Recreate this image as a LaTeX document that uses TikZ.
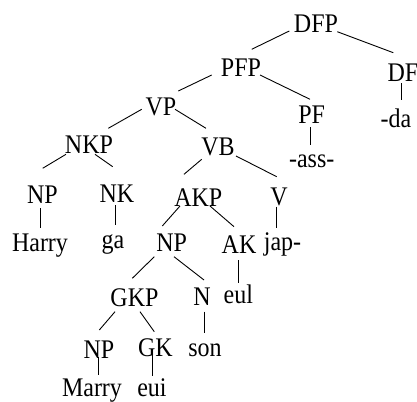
\documentclass[tikz,border=0pt]{standalone}
\usepackage{fontspec}
\setmainfont{Liberation Serif}
\usetikzlibrary{calc}
\newcommand{\treeedge}[4]{\draw[edge] ($(#1.base)+(#2)$) -- ($(#3.base)+(#4)$);}
\newcommand{\tallt}[1]{\scalebox{1}[1.12]{#1}}
\begin{document}
\begin{tikzpicture}[x=1pt,y=-1pt,
  lbl/.style={anchor=base,inner sep=0pt,font=\fontsize{24}{24}\selectfont,text=black},
  edge/.style={draw=black,line width=0.9pt}]
\useasboundingbox (0,0) rectangle (417,401);
% nodes
\node[lbl] (DFP) at (316,33) {\tallt{DFP}};
\node[lbl] (DF) at (403,82) {\tallt{DF}};
\node[lbl] (da) at (396,127) {\tallt{-da}};
\node[lbl] (PFP) at (241,77) {\tallt{PFP}};
\node[lbl] (PF) at (311.7,124) {\tallt{PF}};
\node[lbl] (ass) at (311.7,167) {\tallt{-ass-}};
\node[lbl] (VP) at (161,115) {\tallt{VP}};
\node[lbl] (NKP) at (89,153) {\tallt{NKP}};
\node[lbl] (VB) at (218,155) {\tallt{VB}};
\node[lbl] (NPa) at (42.5,203) {\tallt{NP}};
\node[lbl] (NK) at (117,202) {\tallt{NK}};
\node[lbl] (Harry) at (40,251) {\tallt{Harry}};
\node[lbl] (ga) at (113,248) {\tallt{ga}};
\node[lbl] (AKP) at (198.3,206) {\tallt{AKP}};
\node[lbl] (V) at (279,205) {\tallt{V}};
\node[lbl] (jap) at (282.5,250) {\tallt{jap-}};
\node[lbl] (NPb) at (171.7,251) {\tallt{NP}};
\node[lbl] (AK) at (239,253) {\tallt{AK}};
\node[lbl] (eul) at (238.3,303) {\tallt{eul}};
\node[lbl] (GKP) at (134.5,306.5) {\tallt{GKP}};
\node[lbl] (N) at (202,305) {\tallt{N}};
\node[lbl] (son) at (205,356) {\tallt{son}};
\node[lbl] (NPc) at (99,358) {\tallt{NP}};
\node[lbl] (GK) at (155.5,356) {\tallt{GK}};
\node[lbl] (Marry) at (92,396.5) {\tallt{Marry}};
\node[lbl] (eui) at (152,396.5) {\tallt{eui}};
% edges
\treeedge{DFP}{-26.7,-2}{PFP}{10.7,-27.7}
\treeedge{DFP}{21.3,-1.3}{DF}{-9.7,-29.3}
\treeedge{PFP}{-29.3,-2}{VP}{17.3,-24}
\treeedge{PFP}{19,-2}{PF}{-1.7,-24.7}
\treeedge{DF}{-2,1.3}{da}{5,-27}
\treeedge{PF}{-1.7,3}{ass}{-1.7,-22}
\treeedge{VP}{-19.3,-5.7}{NKP}{19.3,-24.7}
\treeedge{VP}{14,-5.7}{VB}{-12,-26.7}
\treeedge{NKP}{-23,1.3}{NPa}{0.2,-34.7}
\treeedge{NKP}{6,1.3}{NK}{-4.3,-35.3}
\treeedge{NPa}{-1.8,5.3}{Harry}{0.7,-22.7}
\treeedge{NK}{-2,3}{ga}{2,-23}
\treeedge{VB}{-16.3,4.3}{AKP}{-14.3,-31.7}
\treeedge{VB}{18,1}{V}{-2.3,-28.3}
\treeedge{V}{-2.3,1.7}{jap}{-5.8,-21.7}
\treeedge{AKP}{-18.3,0}{NPb}{-9.4,-25}
\treeedge{AKP}{11.7,0}{AK}{-5,-26.3}
\treeedge{AK}{-1,7}{eul}{-0.3,-20.3}
\treeedge{NPb}{-17.4,5.7}{GKP}{-2.2,-28.2}
\treeedge{NPb}{2.3,5.7}{N}{2,-25}
\treeedge{GKP}{-19.5,5.2}{NPc}{0.3,-28}
\treeedge{GKP}{5.5,5.2}{GK}{-1.2,-24.3}
\treeedge{N}{2.3,6.7}{son}{-0.7,-22.7}
\treeedge{NPc}{-0.7,-1.3}{Marry}{6.3,-21.5}
\treeedge{GK}{-3.2,-2.7}{eui}{0.3,-20.5}
\end{tikzpicture}
\end{document}
